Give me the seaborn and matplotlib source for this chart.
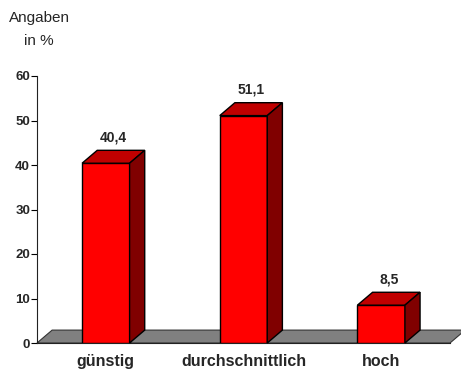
import matplotlib
matplotlib.use("Agg")
import matplotlib.pyplot as plt
from matplotlib.patches import Polygon
import seaborn as sns
import pandas as pd

categories = ["günstig", "durchschnittlich", "hoch"]
values = [40.4, 51.1, 8.5]
value_labels = ["40,4", "51,1", "8,5"]
yticks = [0, 10, 20, 30, 40, 50, 60]

df = pd.DataFrame({"cat": categories, "val": values})

sns.set_style("white")
plt.rcParams["font.family"] = ["Liberation Sans", "DejaVu Sans"]

fig = plt.figure(figsize=(4.61, 3.71), dpi=100)
ax = fig.add_axes([37 / 461, 28 / 371, 413 / 461, 267 / 371])

w = 0.345
dx, dy = 0.11, 2.9

# floor
floor = Polygon([(-0.5, 0), (2.5, 0), (2.5 + dx, dy), (-0.5 + dx, dy)],
                closed=True, facecolor="#808080", edgecolor="#333333",
                linewidth=0.8, clip_on=False, zorder=1)
ax.add_patch(floor)

sns.barplot(data=df, x="cat", y="val", color="#FF0000", width=w,
            edgecolor="black", linewidth=1, saturation=1, ax=ax, zorder=3)

for i, v in enumerate(values):
    x0, x1 = i - w / 2, i + w / 2
    top = Polygon([(x0, v), (x1, v), (x1 + dx, v + dy), (x0 + dx, v + dy)],
                  closed=True, facecolor="#C00000", edgecolor="black",
                  linewidth=1, clip_on=False, zorder=3)
    side = Polygon([(x1, 0), (x1 + dx, dy), (x1 + dx, v + dy), (x1, v)],
                   closed=True, facecolor="#800000", edgecolor="black",
                   linewidth=1, clip_on=False, zorder=3)
    ax.add_patch(top)
    ax.add_patch(side)
    ax.text(i + dx / 2, v + dy + 2.9, value_labels[i], ha="center", va="center",
            fontsize=10, fontweight="bold")

ax.set_xlim(-0.5, 2.5)
ax.set_ylim(0, 60)
ax.set_yticks(yticks)
ax.set_yticklabels([str(t) for t in yticks], fontsize=9.5, fontweight="bold")
ax.set_xticks([0, 1, 2])
ax.set_xticklabels(categories, fontsize=11.5, fontweight="bold")
ax.set_xticks([-0.5, 0.5, 1.5, 2.5], minor=True)
ax.tick_params(axis="x", which="major", length=0, pad=8)
ax.tick_params(axis="x", which="minor", length=4, width=0.8, direction="out", color="black")
ax.tick_params(axis="y", length=4, width=0.8, direction="out", color="black", pad=1, left=True)
ax.set_xlabel("")
ax.set_ylabel("")
for s in ["top", "right"]:
    ax.spines[s].set_visible(False)
for s in ["left", "bottom"]:
    ax.spines[s].set_color("#222222")
    ax.spines[s].set_linewidth(0.8)

fig.text(39 / 461, 1 - 18 / 371, "Angaben", ha="center", va="center", fontsize=11)
fig.text(39 / 461, 1 - 41 / 371, "in %", ha="center", va="center", fontsize=11)

fig.savefig("out.png", dpi=100)
